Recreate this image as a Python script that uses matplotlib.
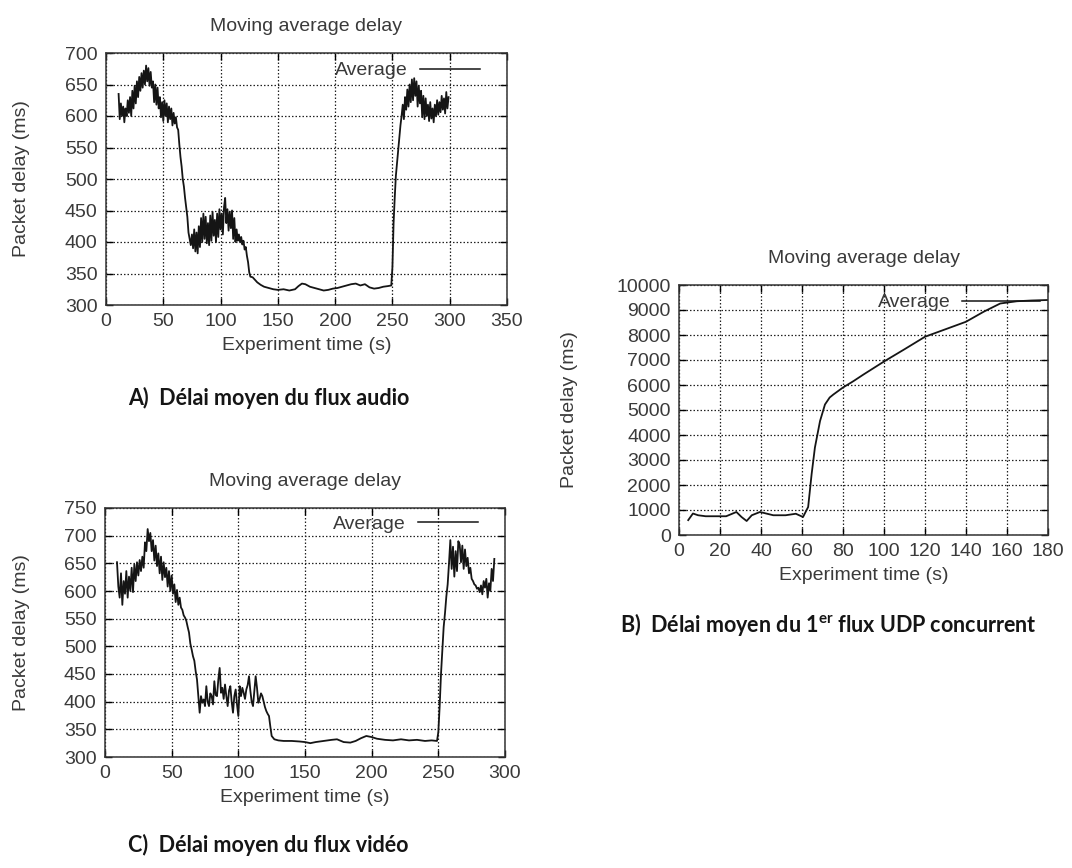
import matplotlib
matplotlib.use("Agg")
import matplotlib.pyplot as plt
from matplotlib.lines import Line2D

plt.rcParams['font.family'] = ['Liberation Sans', 'DejaVu Sans']
plt.rcParams['mathtext.fontset'] = 'custom'
plt.rcParams['mathtext.rm'] = 'Lato'
plt.rcParams['mathtext.bf'] = 'Lato:bold'

W, H = 1072, 868

# A) audio flow
audio_time = [11, 12, 13, 14, 15, 16, 17, 18, 19, 20, 21, 22, 23, 24, 25, 26, 27, 28, 29, 30,
              31, 32, 33, 34, 35, 36, 37, 38, 39, 40, 41, 42, 43, 44, 45, 46, 47, 48, 49, 50,
              51, 52, 53, 54, 55, 56, 57, 58, 59, 60, 61, 62, 63, 64, 65, 66, 67, 68, 69, 70,
              71, 72, 73, 74, 75, 76, 77, 78, 79, 80, 81, 82, 83, 84, 85, 86, 87, 88, 89, 90,
              91, 92, 93, 94, 95, 96, 97, 98, 99, 100, 101, 102, 103, 104, 105, 106, 107, 108, 109, 110,
              111, 112, 113, 114, 115, 116, 117, 118, 119, 120, 121, 122, 123, 124, 125, 126, 128, 130, 132, 135,
              138, 142, 146, 150, 155, 160, 165, 168, 171, 174, 178, 182, 186, 190, 194, 198, 202, 206, 210, 214,
              218, 222, 226, 230, 234, 238, 242, 246, 249, 250, 251, 252, 253, 254, 255, 256, 257, 258, 259, 260,
              261, 262, 263, 264, 265, 266, 267, 268, 269, 270, 271, 272, 273, 274, 275, 276, 277, 278, 279, 280,
              281, 282, 283, 284, 285, 286, 287, 288, 289, 290, 291, 292, 293, 294, 295, 296, 297, 298, 299]
audio_delay = [635, 595, 620, 600, 615, 590, 612, 600, 625, 605, 630, 600, 640, 612, 648, 620, 655, 630, 662, 640,
               668, 645, 672, 650, 680, 655, 676, 648, 670, 645, 655, 622, 650, 618, 645, 612, 630, 598, 622, 592,
               625, 600, 620, 590, 615, 595, 612, 585, 605, 588, 598, 582, 578, 555, 535, 520, 500, 488, 470, 455,
               440, 415, 405, 395, 412, 390, 420, 385, 415, 382, 425, 392, 438, 400, 445, 405, 440, 398, 430, 395,
               442, 402, 448, 410, 435, 400, 445, 408, 452, 420, 445, 412, 455, 470, 430, 452, 418, 448, 422, 450,
               405, 438, 400, 420, 402, 412, 400, 408, 396, 402, 388, 392, 378, 368, 352, 345, 344, 340, 336, 332,
               329, 327, 325, 324, 325, 323, 325, 330, 334, 333, 329, 327, 325, 323, 324, 326, 327, 329, 331, 333,
               334, 331, 333, 328, 326, 327, 329, 330, 331, 360, 430, 470, 505, 525, 545, 565, 585, 600, 618, 595,
               630, 610, 642, 615, 650, 622, 658, 625, 660, 632, 655, 615, 648, 620, 640, 598, 632, 595, 628, 600,
               618, 592, 622, 596, 612, 590, 618, 600, 625, 602, 622, 606, 632, 610, 628, 604, 638, 612, 630]

# B) first concurrent UDP flow
udp_time = [4.5, 6.8, 9.3, 13, 18, 23, 28, 30.5, 33, 35.5, 39.5, 43, 46, 52, 57, 60.5, 63, 64.7,
            66.3, 68.8, 71.2, 73.5, 75.3, 80, 85, 90, 100, 110, 120, 130, 140, 148.6, 156.7,
            164.8, 172, 180]
udp_delay = [595, 860, 790, 750, 750, 750, 920, 720, 560, 790, 920, 850, 790, 790, 850, 720, 1120, 2440,
             3500, 4560, 5220, 5500, 5620, 5900, 6150, 6420, 6940, 7430, 7930, 8230, 8530, 8930, 9260,
             9350, 9380, 9400]

# C) video flow
video_time = [9, 10, 11, 12, 13, 14, 15, 16, 17, 18, 19, 20, 21, 22, 23, 24, 25, 26, 27, 28,
              29, 30, 31, 32, 33, 34, 35, 36, 37, 38, 39, 40, 41, 42, 43, 44, 45, 46, 47, 48,
              49, 50, 51, 52, 53, 54, 55, 56, 57, 58, 59, 60, 61, 62, 63, 64, 65, 66, 67, 68,
              69, 70, 71, 72, 73, 74, 75, 76, 77, 78, 79, 80, 81, 82, 83, 84, 85, 86, 87, 88,
              89, 90, 91, 92, 93, 94, 95, 96, 97, 98, 99, 100, 101, 102, 103, 104, 105, 106, 107, 108,
              109, 110, 111, 112, 113, 114, 115, 116, 117, 118, 119, 120, 121, 122, 123, 124, 125, 127, 130, 134,
              140, 146, 150, 154, 158, 164, 170, 174, 179, 184, 188, 192, 196, 200, 204, 210, 216, 222, 228, 234,
              240, 245, 249, 250, 251, 252, 253, 254, 255, 256, 257, 258, 259, 260, 261, 262, 263, 264, 265, 266,
              267, 268, 269, 270, 271, 272, 273, 274, 275, 276, 277, 278, 279, 280, 281, 282, 283, 284, 285, 286,
              287, 288, 289, 290, 291, 292]
video_delay = [652, 608, 588, 632, 575, 618, 595, 636, 588, 626, 600, 642, 598, 648, 618, 652, 628, 656, 636, 662,
               642, 688, 672, 712, 690, 705, 672, 692, 655, 682, 645, 668, 632, 662, 620, 652, 625, 642, 608, 636,
               600, 628, 595, 612, 580, 602, 575, 588, 570, 566, 556, 552, 546, 535, 525, 505, 494, 482, 474, 455,
               440, 410, 380, 410, 398, 404, 392, 428, 400, 392, 415, 410, 395, 437, 412, 410, 440, 461, 416, 425,
               405, 431, 410, 392, 420, 428, 400, 380, 410, 422, 395, 374, 428, 410, 425, 416, 405, 422, 430, 446,
               420, 400, 392, 420, 446, 425, 398, 405, 415, 410, 400, 390, 383, 378, 374, 355, 338, 332, 330, 329,
               329, 328, 327, 325, 327, 329, 331, 332, 327, 326, 329, 334, 338, 336, 333, 331, 330, 332, 330, 331,
               329, 330, 329, 345, 392, 450, 494, 535, 560, 590, 612, 650, 692, 640, 680, 626, 672, 636, 690, 684,
               652, 682, 640, 675, 645, 660, 632, 642, 622, 618, 612, 610, 604, 606, 598, 610, 594, 618, 606, 622,
               588, 614, 600, 640, 618, 658]

captions = ["A)  Délai moyen du flux audio",
            r"B)  Délai moyen du 1$^{\mathbf{er}}$ flux UDP concurrent",
            "C)  Délai moyen du flux vidéo"]

TXT = '#3a3a3a'
LINE = '#151515'
FS = 14


def place(l, t, r, b):
    return [l / W, 1 - b / H, (r - l) / W, (b - t) / H]


def gnuplot_axes(fig, rect, t, y, xlim, ylim, xstep, ystep, leg_anchor, ylab_x, hlen):
    ax = fig.add_axes(rect)
    ax.plot(t, y, color=LINE, lw=1.3)
    ax.set_xlim(*xlim)
    ax.set_ylim(*ylim)
    ax.set_xticks(range(xlim[0], xlim[1] + 1, xstep))
    ax.set_yticks(range(ylim[0], ylim[1] + 1, ystep))
    ax.tick_params(direction='in', top=True, right=True, length=5, width=1,
                   labelsize=FS, labelcolor=TXT, pad=6)
    for s in ax.spines.values():
        s.set_linewidth(1.1)
        s.set_color('#333333')
    ax.grid(True, linestyle=(0, (1.2, 1.6)), color='#222222', lw=0.9)
    ax.set_title("Moving average delay", fontsize=FS, color=TXT, pad=16)
    ax.set_xlabel("Experiment time (s)", fontsize=FS, color=TXT, labelpad=5)
    ax.set_ylabel("Packet delay (ms)", fontsize=FS, color=TXT)
    ax.yaxis.set_label_coords(ylab_x, 0.5)
    handle = Line2D([], [], color=LINE, lw=1.1)
    leg = ax.legend([handle], ["Average"], loc='upper right', bbox_to_anchor=leg_anchor,
                    frameon=False, markerfirst=False, handlelength=hlen, handletextpad=0.6,
                    borderpad=0, borderaxespad=0, fontsize=FS)
    for txt in leg.get_texts():
        txt.set_color(TXT)
    return ax


fig = plt.figure(figsize=(W / 100, H / 100), dpi=100)

gnuplot_axes(fig, place(106, 53, 507, 305), audio_time, audio_delay,
             (0, 350), (300, 700), 50, 50, (0.933, 0.965), -0.19, 3.1)
gnuplot_axes(fig, place(679, 285, 1048, 535), udp_time, udp_delay,
             (0, 180), (0, 10000), 20, 1000, (0.978, 0.965), -0.274, 4.0)
gnuplot_axes(fig, place(105, 508, 505, 757), video_time, video_delay,
             (0, 300), (300, 750), 50, 50, (0.932, 0.972), -0.1875, 3.1)

cap_pos = [(128, 398), (620, 624), (128, 845)]
for (cx, cy), text in zip(cap_pos, captions):
    fig.text(cx / W, 1 - cy / H, text, fontsize=15.5, fontweight='bold', family='Lato',
             color='#151515', ha='left', va='center')

fig.savefig("out.png", dpi=100)
